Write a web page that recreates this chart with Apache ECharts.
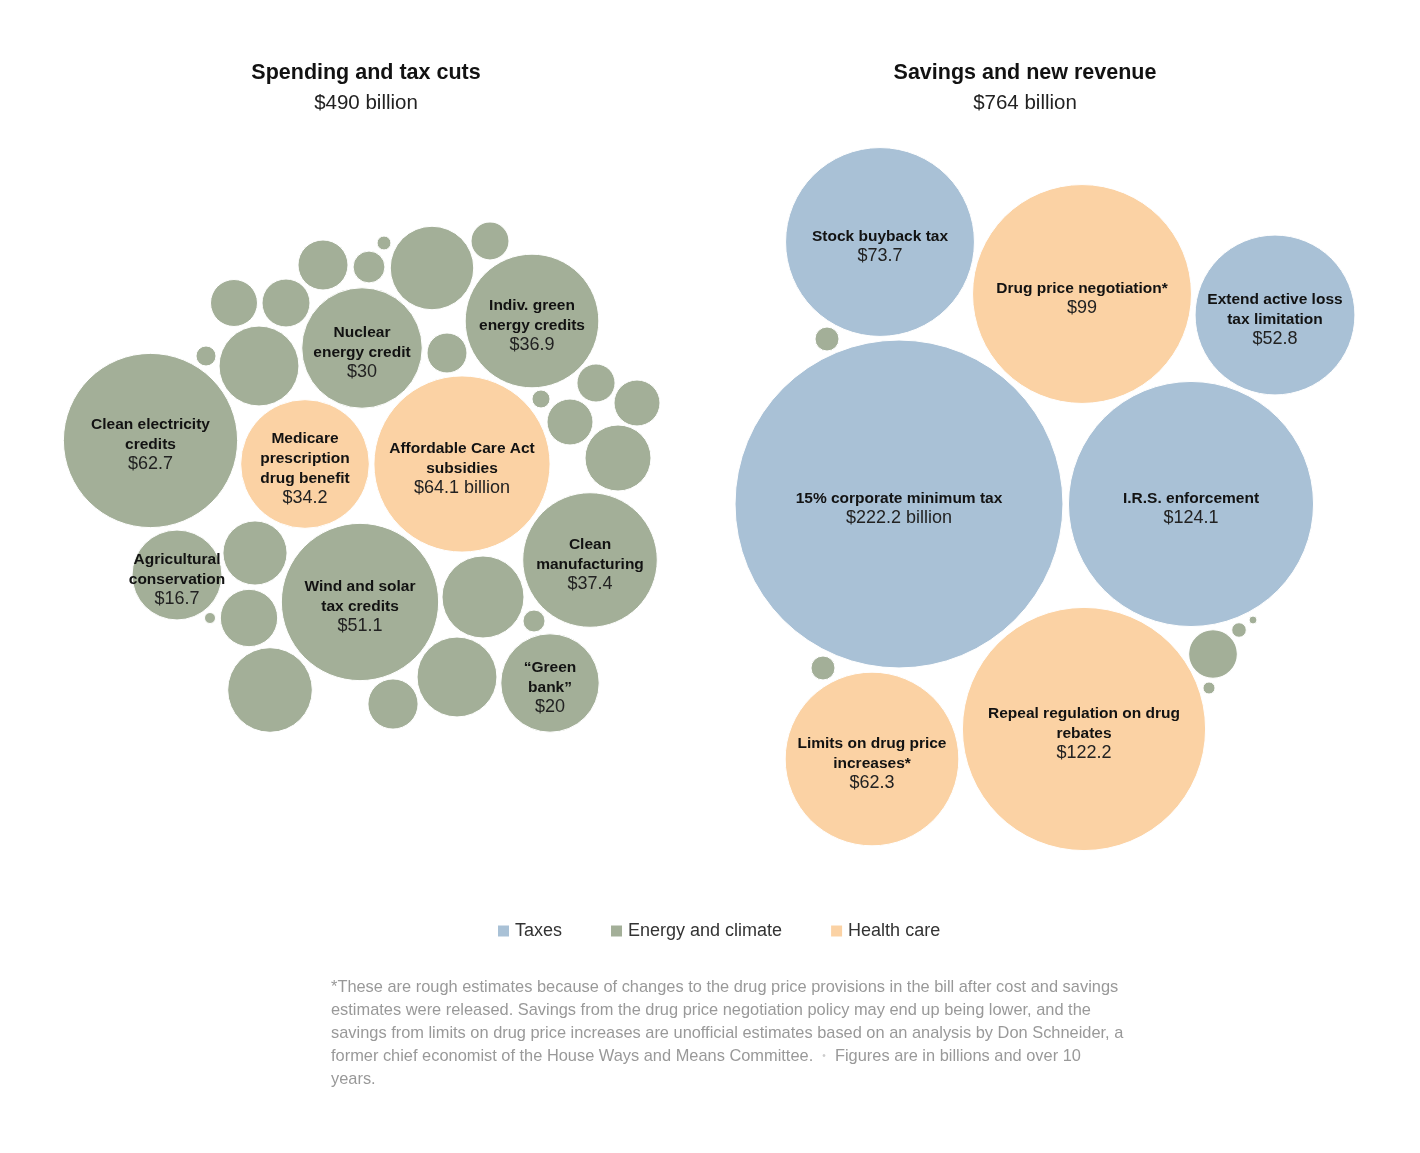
<!DOCTYPE html>
<html><head><meta charset="utf-8">
<script src="https://cdn.jsdelivr.net/npm/echarts@6/dist/echarts.min.js"></script>
<style>html,body{margin:0;padding:0;background:#fff}#c{width:1420px;height:1153px}</style>
</head><body><div id="c"></div>
<script>
// Categories and colours
const categories = ['Taxes', 'Energy and climate', 'Health care'];
const catColors = ['#a9c1d6', '#a3af98', '#fbd2a4'];

// Panel titles
const panelTitles = ['Spending and tax cuts', 'Savings and new revenue'];
const panelTotals = ['$490 billion', '$764 billion'];

// ---- Spending and tax cuts (left) ----
const leftNames = [
  'Clean electricity\ncredits', 'Nuclear\nenergy credit', 'Indiv. green\nenergy credits',
  'Wind and solar\ntax credits', 'Clean\nmanufacturing', '\u201cGreen\nbank\u201d',
  'Agricultural\nconservation', 'Medicare\nprescription\ndrug benefit', 'Affordable Care Act\nsubsidies',
  '', '', '', '', '', '', '', '', '', '', '', '', '', '', '', '', '', '', '', '', '', '', ''
];
const leftValues = [
  62.7, 30, 36.9, 51.1, 37.4, 20, 16.7, 34.2, 64.1,
  0.83, 13.2, 4.56, 4.76, 5.17, 2.1, 0.4, 14.4, 2.98, 3.3, 3.0, 4.37, 0.67, 4.37, 9.0,
  8.5, 6.8, 0.25, 14.8, 5.2, 13.9, 1.0, 13.2
];
const leftCategory = [
  1, 1, 1, 1, 1, 1, 1, 2, 2,
  1, 1, 1, 1, 1, 1, 1, 1, 1, 1, 1, 1, 1, 1, 1, 1, 1, 1, 1, 1, 1, 1, 1
];
// layout position of each bubble centre (layout units)
const leftX = [150.5, 362, 532, 360, 590, 550, 177, 305, 462,
  206, 259, 234, 286, 323, 369, 384, 432, 490, 447, 596, 637, 541, 570, 618,
  255, 249, 210, 270, 393, 483, 534, 457];
const leftY = [440.5, 348, 321, 602, 560, 683, 575, 464, 464,
  356, 366, 303, 303, 265, 267, 243, 268, 241, 353, 383, 403, 399, 422, 458,
  553, 618, 618, 690, 704, 597, 621, 677];

// ---- Savings and new revenue (right) ----
const rightNames = [
  '15% corporate minimum tax', 'I.R.S. enforcement', 'Stock buyback tax', 'Extend active loss\ntax limitation',
  'Drug price negotiation*', 'Repeal regulation on drug\nrebates', 'Limits on drug price\nincreases*',
  '', '', '', '', '', ''
];
const rightValues = [222.2, 124.1, 73.7, 52.8, 99, 122.2, 62.3, 1.19, 1.19, 4.9, 0.44, 0.3, 0.13];
const rightCategory = [0, 0, 0, 0, 2, 2, 2, 1, 1, 1, 1, 1, 1];
const rightX = [899, 1191, 880, 1275, 1082, 1084, 872, 827, 823, 1213, 1239, 1209, 1253];
const rightY = [504, 504, 242, 315, 294, 729, 759, 339, 668, 654, 630, 688, 620];

// value labels that carry the unit
const billionLabels = ['Affordable Care Act\nsubsidies', '15% corporate minimum tax'];

const footnoteLines = [
  '*These are rough estimates because of changes to the drug price provisions in the bill after cost and savings',
  'estimates were released. Savings from the drug price negotiation policy may end up being lower, and the',
  'savings from limits on drug price increases are unofficial estimates based on an analysis by Don Schneider, a',
  'former chief economist of the House Ways and Means Committee.  {dot|\u2022}  Figures are in billions and over 10',
  'years.'
];

// radius (px) per sqrt(billions)
const K = 11.0;
const FONT = '"Liberation Sans", Arial, sans-serif';

function buildData(names, values, cats, xs, ys, catIdx) {
  const out = [];
  for (let i = 0; i < names.length; i++) {
    if (cats[i] !== catIdx) continue;
    out.push({
      value: [xs[i], ys[i], values[i]],
      name: names[i],
      label: { show: names[i] !== '' }
    });
  }
  return out;
}

const series = categories.map((c, ci) => ({
  name: c,
  type: 'scatter',
  symbol: 'circle',
  symbolSize: d => 2 * K * Math.sqrt(d[2]),
  itemStyle: { color: catColors[ci], borderColor: '#ffffff', borderWidth: 1, opacity: 1 },
  emphasis: { disabled: true },
  silent: true,
  data: buildData(leftNames, leftValues, leftCategory, leftX, leftY, ci)
        .concat(buildData(rightNames, rightValues, rightCategory, rightX, rightY, ci)),
  label: {
    position: 'inside',
    align: 'center',
    verticalAlign: 'middle',
    offset: [0, 4],
    formatter: p => {
      const lines = p.name.split('\n').map(s => '{b|' + s + '}');
      const unit = billionLabels.indexOf(p.name) >= 0 ? ' billion' : '';
      lines.push('{v|$' + p.value[2] + unit + '}');
      return lines.join('\n');
    },
    rich: {
      b: { fontFamily: FONT, fontWeight: 'bold', fontSize: 15.5, lineHeight: 20, color: '#121212', align: 'center' },
      v: { fontFamily: FONT, fontSize: 18, lineHeight: 19, color: '#222222', align: 'center' }
    }
  },
  z: 2
}));

const chart = echarts.init(document.getElementById('c'), null, { renderer: 'canvas' });
chart.setOption({
  animation: false,
  backgroundColor: '#ffffff',
  grid: { left: 0, right: 0, top: 0, bottom: 0, containLabel: false },
  xAxis: { type: 'value', min: 0, max: 1420, show: false },
  yAxis: { type: 'value', min: 0, max: 1153, inverse: true, show: false },
  legend: {
    data: categories,
    left: 491, top: 917,
    icon: 'rect', itemWidth: 13, itemHeight: 13, itemGap: 47,
    selectedMode: false,
    textStyle: { fontFamily: FONT, fontSize: 18, color: '#333333' }
  },
  series: series,
  graphic: [
    { type: 'text', x: 366, y: 73, style: { text: panelTitles[0], font: 'bold 21.5px ' + FONT, fill: '#121212', align: 'center', verticalAlign: 'middle' } },
    { type: 'text', x: 366, y: 103, style: { text: panelTotals[0], font: '20.5px ' + FONT, fill: '#222222', align: 'center', verticalAlign: 'middle' } },
    { type: 'text', x: 1025, y: 73, style: { text: panelTitles[1], font: 'bold 21.5px ' + FONT, fill: '#121212', align: 'center', verticalAlign: 'middle' } },
    { type: 'text', x: 1025, y: 103, style: { text: panelTotals[1], font: '20.5px ' + FONT, fill: '#222222', align: 'center', verticalAlign: 'middle' } },
    { type: 'text', x: 331, y: 976, style: {
        text: footnoteLines.join('\n'), fontFamily: FONT, fontSize: 16.4, lineHeight: 23, fill: '#999999',
        rich: { dot: { fontSize: 10, fill: '#cccccc', color: '#cccccc' } }
      } }
  ]
});
</script></body></html>
